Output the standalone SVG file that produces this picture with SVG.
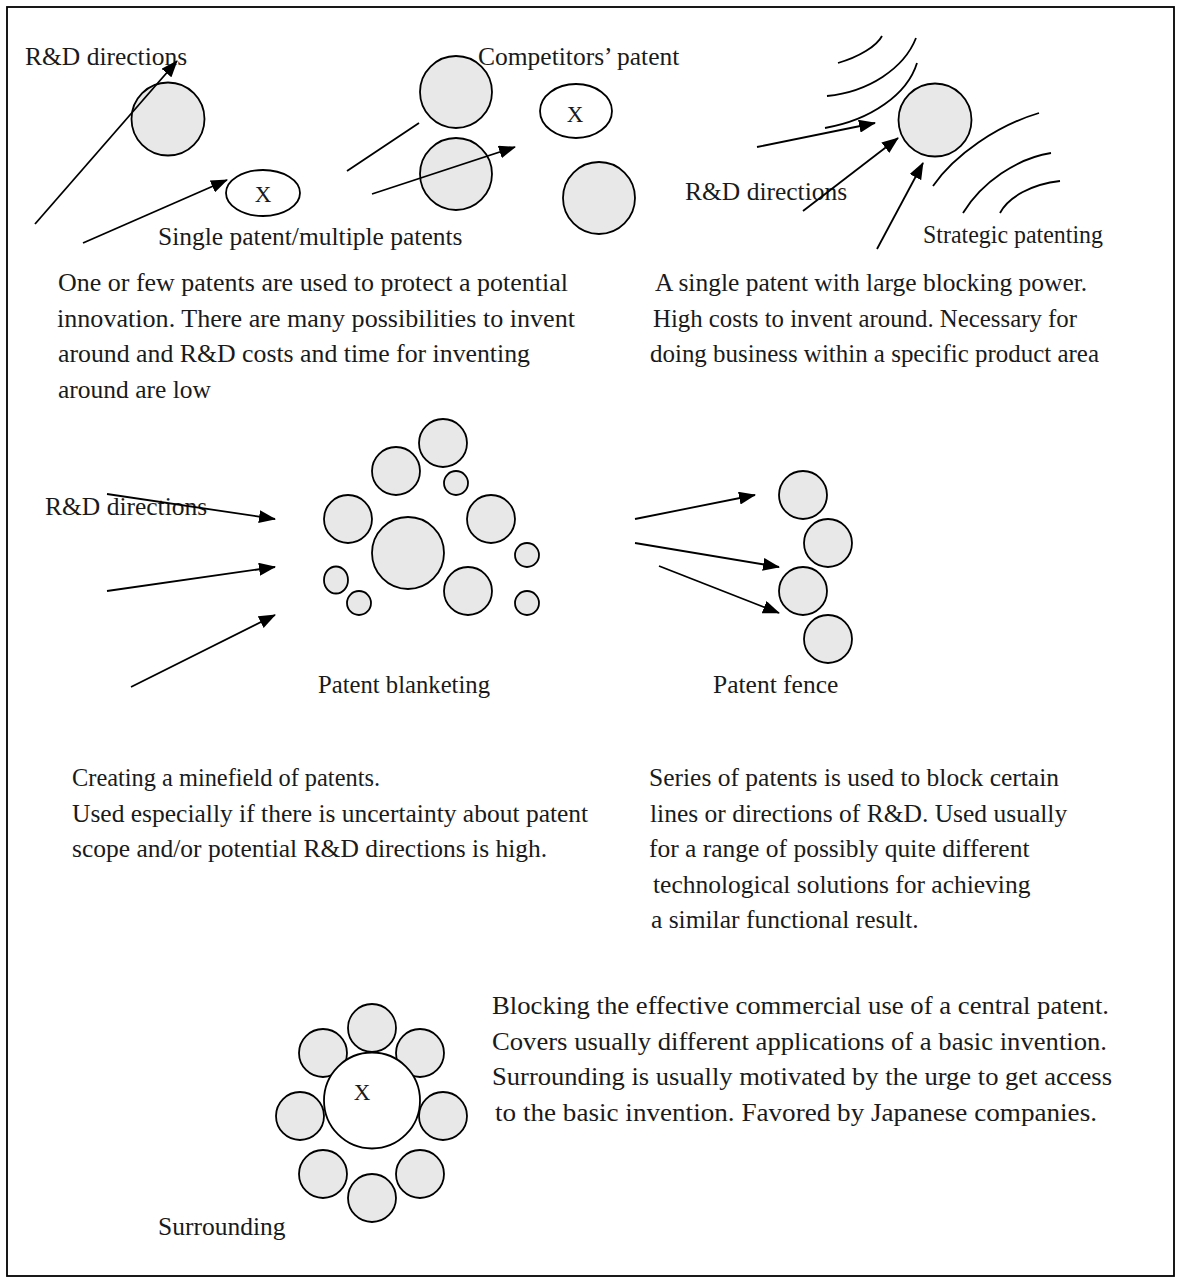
<svg xmlns="http://www.w3.org/2000/svg" width="1182" height="1283" viewBox="0 0 1182 1283">
<style>
.p{fill:#e8e8e8;stroke:#000;stroke-width:1.8}
.w{fill:#fff;stroke:#000;stroke-width:1.8}
.l{fill:none;stroke:#000;stroke-width:1.8}
.a{fill:none;stroke:#000;stroke-width:1.8;marker-end:url(#ah)}
text{font-family:"Liberation Serif","Times New Roman",serif;font-size:25.5px;fill:#1a1a1a}
.x{text-anchor:middle;font-size:23px}
</style>
<defs>
<marker id="ah" markerWidth="17" markerHeight="13" refX="16" refY="6.5" orient="auto" markerUnits="userSpaceOnUse">
<path d="M0,0 L17,6.5 L0,13 z" fill="#000"/>
</marker>
</defs>
<rect x="0" y="0" width="1182" height="1283" fill="#fff"/>
<rect x="7" y="7" width="1167" height="1269" fill="none" stroke="#000" stroke-width="1.8"/>

<g id="single-patent">
<circle class="p" cx="168" cy="119" r="36.5"/>
<ellipse class="w" cx="263" cy="193" rx="37" ry="23"/>
<text class="x" x="263" y="202">X</text>
<text x="25" y="65">R&amp;D directions</text>
<text x="158" y="245">Single patent/multiple patents</text>
</g>

<g id="competitors-patent">
<circle class="p" cx="456" cy="92" r="36"/>
<circle class="p" cx="456" cy="174" r="36"/>
<circle class="p" cx="599" cy="198" r="36"/>
<ellipse class="w" cx="576" cy="111" rx="36" ry="27"/>
<text class="x" x="575" y="122">X</text>
<text x="478" y="65">Competitors’ patent</text>
</g>

<g id="strategic-patenting">
<path class="l" d="M838,63 C859,57 876.6,46.2 882,36"/>
<path class="l" d="M827,96 C868.4,91.8 904,68.6 916,38"/>
<path class="l" d="M825,128 C870.6,120.2 907.4,94.4 917,63"/>
<path class="l" d="M933,186 C954.6,154.8 997,125.6 1039,113"/>
<path class="l" d="M963,213 C981.6,182.4 1016.8,158.4 1051,153"/>
<path class="l" d="M1000,213 C1008.4,196.8 1032.4,184 1060,181"/>
<circle class="p" cx="935" cy="120" r="36.5"/>
<text x="685" y="200">R&amp;D directions</text>
<text x="923" y="243" textLength="180" lengthAdjust="spacingAndGlyphs">Strategic patenting</text>
</g>

<g id="text-single">
<text x="58" y="291" textLength="510" lengthAdjust="spacingAndGlyphs">One or few patents are used to protect a potential</text>
<text x="57" y="327" textLength="518" lengthAdjust="spacingAndGlyphs">innovation. There are many possibilities to invent</text>
<text x="58" y="362" textLength="472" lengthAdjust="spacingAndGlyphs">around and R&amp;D costs and time for inventing</text>
<text x="58" y="398">around are low</text>
</g>

<g id="text-strategic">
<text x="655" y="291">A single patent with large blocking power.</text>
<text x="653" y="327" textLength="424" lengthAdjust="spacingAndGlyphs">High costs to invent around. Necessary for</text>
<text x="650" y="362" textLength="449" lengthAdjust="spacingAndGlyphs">doing business within a specific product area</text>
</g>

<g id="patent-blanketing">
<circle class="p" cx="443" cy="443" r="24"/>
<circle class="p" cx="396" cy="471" r="24"/>
<circle class="p" cx="456" cy="483" r="12"/>
<circle class="p" cx="348" cy="519" r="24"/>
<circle class="p" cx="491" cy="519" r="24"/>
<circle class="p" cx="408" cy="553" r="36"/>
<circle class="p" cx="527" cy="555" r="12"/>
<ellipse class="p" cx="336" cy="580" rx="12" ry="13.5"/>
<circle class="p" cx="359" cy="603" r="12"/>
<circle class="p" cx="468" cy="591" r="24"/>
<circle class="p" cx="527" cy="603" r="12"/>
<text x="45" y="515">R&amp;D directions</text>
<text x="318" y="693" textLength="172" lengthAdjust="spacingAndGlyphs">Patent blanketing</text>
</g>

<g id="patent-fence">
<circle class="p" cx="803" cy="495" r="24"/>
<circle class="p" cx="828" cy="543" r="24"/>
<circle class="p" cx="803" cy="591" r="24"/>
<circle class="p" cx="828" cy="639" r="24"/>
<text x="713" y="693">Patent fence</text>
</g>

<g id="text-blanketing">
<text x="72" y="786" textLength="308" lengthAdjust="spacingAndGlyphs">Creating a minefield of patents.</text>
<text x="72" y="822">Used especially if there is uncertainty about patent</text>
<text x="72" y="857">scope and/or potential R&amp;D directions is high.</text>
</g>

<g id="text-fence">
<text x="649" y="786">Series of patents is used to block certain</text>
<text x="650" y="822">lines or directions of R&amp;D. Used usually</text>
<text x="649" y="857">for a range of possibly quite different</text>
<text x="653" y="893">technological solutions for achieving</text>
<text x="651" y="928">a similar functional result.</text>
</g>

<g id="surrounding">
<circle class="p" cx="372" cy="1028" r="24"/>
<circle class="p" cx="323" cy="1053" r="24"/>
<circle class="p" cx="420" cy="1053" r="24"/>
<circle class="p" cx="300" cy="1116" r="24"/>
<circle class="p" cx="443" cy="1116" r="24"/>
<circle class="p" cx="323" cy="1174" r="24"/>
<circle class="p" cx="420" cy="1174" r="24"/>
<circle class="p" cx="372" cy="1198" r="24"/>
<circle class="w" cx="372" cy="1100.5" r="48"/>
<text class="x" x="362" y="1100">X</text>
<text x="158" y="1235">Surrounding</text>
</g>

<g id="text-surrounding">
<text x="492" y="1014" textLength="617" lengthAdjust="spacingAndGlyphs">Blocking the effective commercial use of a central patent.</text>
<text x="492" y="1050" textLength="615" lengthAdjust="spacingAndGlyphs">Covers usually different applications of a basic invention.</text>
<text x="492" y="1085" textLength="620" lengthAdjust="spacingAndGlyphs">Surrounding is usually motivated by the urge to get access</text>
<text x="495" y="1121" textLength="602" lengthAdjust="spacingAndGlyphs">to the basic invention. Favored by Japanese companies.</text>
</g>

<g id="connectors">
<line class="a" x1="35" y1="224" x2="177" y2="61"/>
<line class="a" x1="83" y1="243" x2="227" y2="180"/>
<line class="l" x1="347" y1="171" x2="419" y2="123"/>
<line class="a" x1="372" y1="194" x2="515" y2="147"/>
<line class="a" x1="757" y1="147" x2="875" y2="123"/>
<line class="a" x1="803" y1="211" x2="898" y2="138"/>
<line class="a" x1="877" y1="249" x2="923" y2="163"/>
<line class="a" x1="107" y1="494" x2="275" y2="519"/>
<line class="a" x1="107" y1="591" x2="275" y2="567"/>
<line class="a" x1="131" y1="687" x2="275" y2="615"/>
<line class="a" x1="635" y1="519" x2="755" y2="495"/>
<line class="a" x1="635" y1="543" x2="779" y2="567"/>
<line class="a" x1="659" y1="566" x2="779" y2="613"/>
</g>
</svg>
